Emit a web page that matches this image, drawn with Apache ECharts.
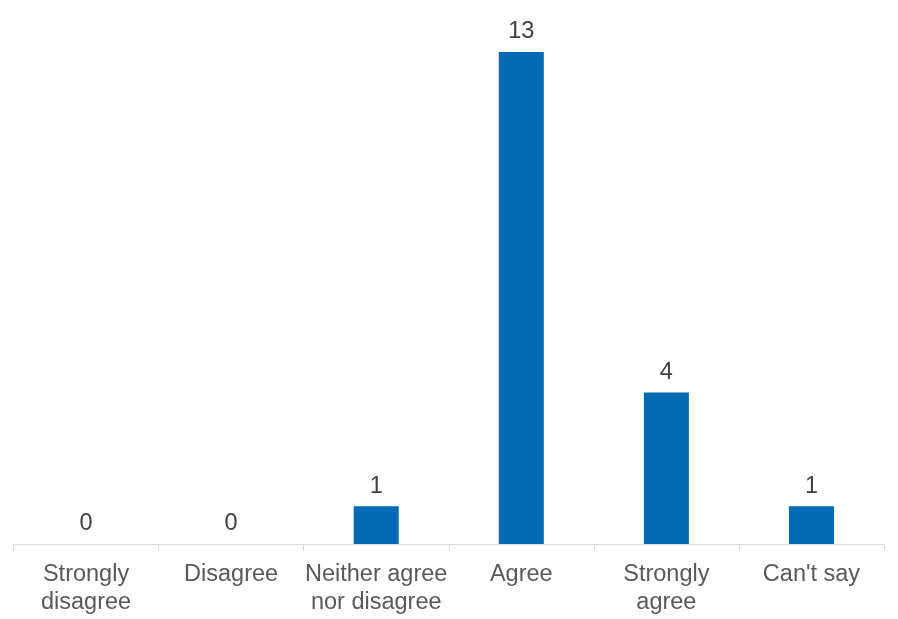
<!DOCTYPE html>
<html><head><meta charset="utf-8">
<script src="https://cdn.jsdelivr.net/npm/echarts@6/dist/echarts.min.js"></script>
<style>html,body{margin:0;padding:0;background:#fff}#c{width:898px;height:619px}</style>
</head><body><div id="c"></div>
<script>
const categories = ["Strongly\ndisagree", "Disagree", "Neither agree\nnor disagree", "Agree", "Strongly\nagree", "Can't say"];
const values = [0, 0, 1, 13, 4, 1];

const chart = echarts.init(document.getElementById('c'), null, {renderer: 'canvas'});
chart.setOption({
  animation: false,
  backgroundColor: '#ffffff',
  grid: {left: 13.5, right: 14, top: 52, bottom: 75, containLabel: false},
  xAxis: {
    type: 'category',
    data: categories,
    axisLine: {lineStyle: {color: '#d9d9d9', width: 1}},
    axisTick: {show: true, length: 7, lineStyle: {color: '#d9d9d9'}},
    axisLabel: {color: '#595959', fontFamily: 'Liberation Sans, Arial, sans-serif', fontSize: 23.5, lineHeight: 28, margin: 17, interval: 0}
  },
  yAxis: {type: 'value', min: 0, max: 13, show: false, splitLine: {show: false}},
  series: [{
    type: 'bar',
    data: values,
    barWidth: 45,
    itemStyle: {color: '#006AB4'},
    label: {show: true, position: 'top', distance: 8, color: '#404040', fontFamily: 'Liberation Sans, Arial, sans-serif', fontSize: 23.5}
  }]
});
</script></body></html>
